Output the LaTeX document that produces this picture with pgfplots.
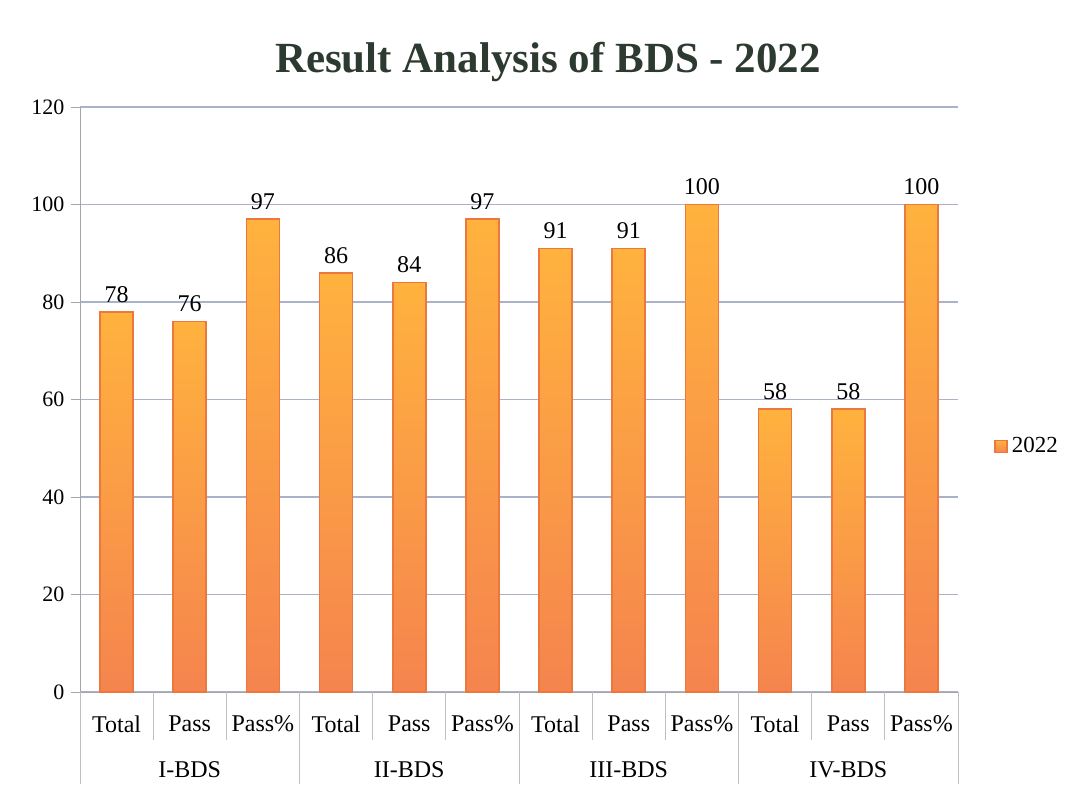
\documentclass[border=0pt]{standalone}
\usepackage{pgfplots}
\pgfplotsset{compat=1.18}
\usepackage{fontspec}
\setmainfont{Liberation Serif}
\definecolor{barTop}{RGB}{255,178,62}
\definecolor{barBot}{RGB}{245,132,78}
\definecolor{barEdge}{RGB}{236,120,62}
\definecolor{gridc}{RGB}{170,178,200}
\definecolor{titlec}{RGB}{45,58,48}
\pgfplotsset{cyl/.style={draw=barEdge, line width=0.8pt, top color=barTop, bottom color=barBot}}
\begin{document}
\begin{tikzpicture}
\begin{axis}[
  scale only axis,
  width=439pt, height=292.5pt,
  xmin=-0.5, xmax=11.5,
  ymin=0, ymax=120,
  ytick={0,20,...,120},
  xtick={0,...,11},
  xticklabels={Total,Pass,Pass\%,Total,Pass,Pass\%,Total,Pass,Pass\%,Total,Pass,Pass\%},
  xticklabel style={font=\rmfamily\fontsize{12}{14}\selectfont, yshift=-4pt},
  yticklabel style={font=\rmfamily\fontsize{11}{13}\selectfont},
  /pgf/number format/assume math mode=true,
  major x tick style={draw=none},
  major y tick style={gray!70},
  tick align=outside,
  ymajorgrids,
  grid style={gridc, line width=0.6pt},
  axis line style={gray!70},
  axis x line*=bottom,
  axis y line*=left,
  separate axis lines,
  x axis line style={-},
  y axis line style={-},
  clip=false,
  ybar, bar width=16.5pt, bar shift=0pt,
  nodes near coords,
  every node near coord/.append style={font=\rmfamily\fontsize{12}{14}\selectfont, yshift=1pt},
  legend style={at={(1.034,0.42)}, anchor=west, draw=none, fill=none,
    font=\rmfamily\fontsize{11.5}{13}\selectfont},
  legend image code/.code={\fill[top color=barTop,bottom color=barBot] (0pt,-3pt) rectangle (6pt,3pt);},
]
\addplot[cyl] coordinates {(0,78)};
\addlegendentry{2022}
\addplot[cyl, forget plot] coordinates {(1,76)};
\addplot[cyl, forget plot] coordinates {(2,97)};
\addplot[cyl, forget plot] coordinates {(3,86)};
\addplot[cyl, forget plot] coordinates {(4,84)};
\addplot[cyl, forget plot] coordinates {(5,97)};
\addplot[cyl, forget plot] coordinates {(6,91)};
\addplot[cyl, forget plot] coordinates {(7,91)};
\addplot[cyl, forget plot] coordinates {(8,100)};
\addplot[cyl, forget plot] coordinates {(9,58)};
\addplot[cyl, forget plot] coordinates {(10,58)};
\addplot[cyl, forget plot] coordinates {(11,100)};
\pgfplotsinvokeforeach{0.5,1.5,3.5,4.5,6.5,7.5,9.5,10.5}{
  \draw[gray!50] (axis cs:#1,0) -- ++(0pt,-24pt);
}
\pgfplotsinvokeforeach{-0.5,2.5,5.5,8.5,11.5}{
  \draw[gray!50] (axis cs:#1,0) -- ++(0pt,-46pt);
}
\node[font=\rmfamily\fontsize{12}{14}\selectfont] at ([yshift=-39pt]axis cs:1,0) {I-BDS};
\node[font=\rmfamily\fontsize{12}{14}\selectfont] at ([yshift=-39pt]axis cs:4,0) {II-BDS};
\node[font=\rmfamily\fontsize{12}{14}\selectfont] at ([yshift=-39pt]axis cs:7,0) {III-BDS};
\node[font=\rmfamily\fontsize{12}{14}\selectfont] at ([yshift=-39pt]axis cs:10,0) {IV-BDS};
\node[font=\fontsize{21.5}{24}\selectfont\bfseries, text=titlec] at (rel axis cs:0.533,1.077) {Result Analysis of BDS - 2022};
\path (rel axis cs:-0.0911,-0.1778) rectangle (rel axis cs:1.1321,1.1829);
\end{axis}
\end{tikzpicture}
\end{document}
